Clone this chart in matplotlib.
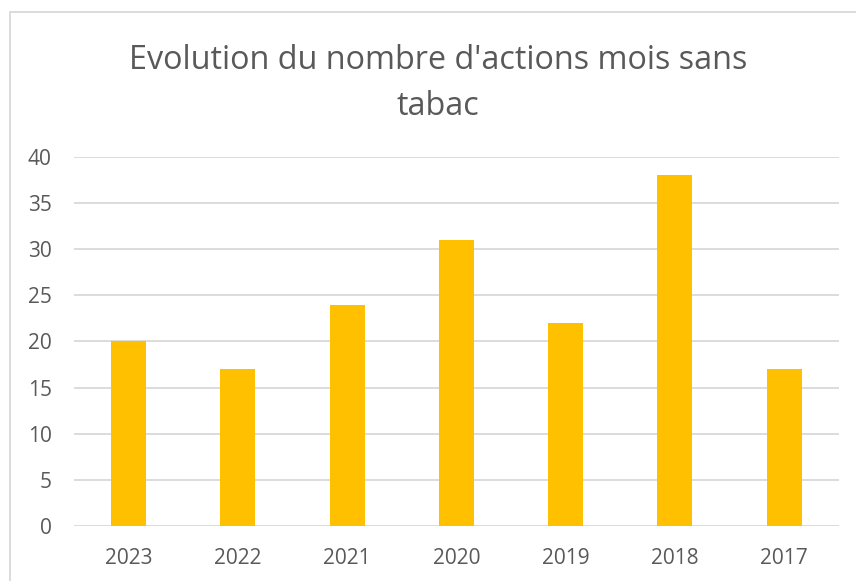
import matplotlib
matplotlib.use('Agg')
import matplotlib.pyplot as plt
from matplotlib.patches import Rectangle

# data
years = ['2023', '2022', '2021', '2020', '2019', '2018', '2017']
actions = [20, 17, 24, 31, 22, 38, 17]

textColor = '#595959'
gridColor = '#d9d9d9'
barColor = '#FFC000'

plt.rcParams['font.family'] = ['Open Sans', 'DejaVu Sans']

fig = plt.figure(figsize=(8.56, 5.81), dpi=100)
ax = fig.add_axes([0.0864, 0.0947, 0.8936, 0.6351])

x = range(len(years))
ax.bar(x, actions, width=0.32, color=barColor, zorder=3)

ax.set_ylim(0, 40)
ax.set_xlim(-0.5, len(years) - 0.5)
ax.set_yticks(range(0, 41, 5))
ax.set_xticks(list(x))
ax.set_xticklabels(years)
ax.yaxis.grid(True, color=gridColor, linewidth=1.3, zorder=0)
ax.tick_params(axis='both', length=0, labelsize=15, labelcolor=textColor)
ax.tick_params(axis='y', pad=16)
ax.tick_params(axis='x', pad=16)
for s in ax.spines.values():
    s.set_visible(False)

# chart area border (only top/left visible in the crop)
fig.patches.append(Rectangle((10 / 856, -0.1), 1.2, 1.1 - 12 / 581,
                             transform=fig.transFigure, fill=False,
                             edgecolor=gridColor, linewidth=1.3))

fig.text(0.512, 0.856, "Evolution du nombre d'actions mois sans\ntabac",
         ha='center', va='center', multialignment='center',
         fontsize=23.3, color=textColor, linespacing=1.52)

fig.savefig('out.png', dpi=100)
